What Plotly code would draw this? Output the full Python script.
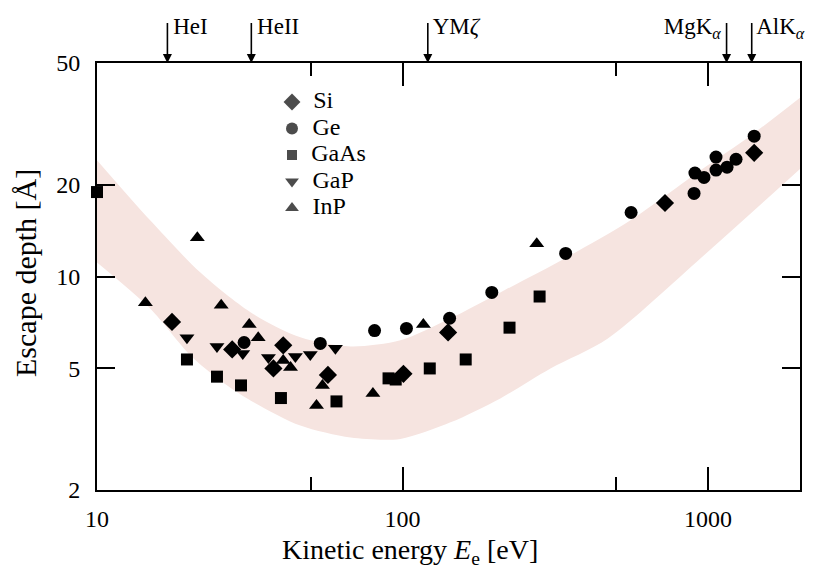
import math
import plotly.graph_objects as go

# ---------------- data ----------------
si_E = [17.6, 27.7, 37.8, 40.7, 57, 100.7, 141, 723, 1416]
si_d = [7.1, 5.77, 5.0, 5.95, 4.76, 4.8, 6.56, 17.4, 25.4]

ge_E = [30.3, 53.8, 81, 103, 142.6, 196, 342, 560, 900, 906, 970, 1062, 1062, 1154, 1235, 1416]
ge_d = [6.08, 6.04, 6.65, 6.76, 7.3, 8.87, 11.9, 16.2, 18.7, 21.8, 21.1, 24.6, 22.3, 22.8, 24.2, 28.8]

gaas_E = [10.0, 19.7, 24.7, 29.6, 40, 60.8, 90, 95, 122.8, 161, 224, 281]
gaas_d = [18.9, 5.35, 4.7, 4.4, 4.0, 3.9, 4.64, 4.6, 5.0, 5.35, 6.8, 8.6]

gap_E = [19.7, 24.7, 30, 36.4, 44.6, 49.9, 60.3]
gap_d = [6.3, 5.9, 5.6, 5.43, 5.47, 5.55, 5.82]

inp_E = [14.4, 21.3, 25.5, 31.5, 33.7, 40.7, 43, 54.7, 52.3, 80, 117, 275]
inp_d = [8.2, 13.4, 8.05, 6.97, 6.3, 5.31, 5.04, 4.4, 3.78, 4.14, 6.97, 12.8]

# universal-curve band (upper and lower limits)
band_up_E = [9.5, 14.9, 21.8, 31.8, 46.3, 67.6, 98.4, 143.6, 209, 342, 559, 948, 1384, 2100]
band_up_d = [25.5, 15.3, 10.3, 7.64, 6.32, 5.9, 6.18, 7.3, 8.87, 11.5, 15.3, 22.3, 29.0, 40.0]
band_lo_E = [9.5, 14.9, 20.2, 25.3, 31.8, 46.3, 67.6, 98.4, 143.6, 209, 305, 470, 948, 2100]
band_lo_d = [11.6, 7.87, 5.52, 4.57, 3.93, 3.25, 2.97, 2.94, 3.33, 3.99, 5.0, 6.27, 11.5, 23.5]

# photon-source markers on top axis
src_names = ["HeI", "HeII", "YM<i>ζ</i>", "MgK<sub><i>α</i></sub>", "AlK<sub><i>α</i></sub>"]
src_E = [17, 32, 121, 1150, 1390]
src_side = ["right", "right", "right", "left", "right"]

legend_names = ["Si", "Ge", "GaAs", "GaP", "InP"]
legend_symbols = ["diamond", "circle", "square", "triangle-down", "triangle-up"]

x_ticks = [10, 100, 1000]
x_minor = [50, 500]
y_ticks = [2, 5, 10, 20, 50]

FONT = "Liberation Serif"

# page body has an 8px margin: figure is sized/offset to compensate
W, H = 816, 562
L, R, T, B = 89, 24, 12, 80
PW = W - L - R
PH = H - T - B
main_h = 427
split = main_h / PH


def px_y(fig_y):
    return (H - B - fig_y) / PH


def px_x(fig_x):
    return (fig_x - L) / PW


fig = go.Figure()

# band: lower edge (invisible) then upper edge filled to it
fig.add_trace(go.Scatter(
    x=band_lo_E, y=band_lo_d, mode="lines",
    line=dict(width=0, shape="spline", smoothing=0.8, color="rgba(0,0,0,0)"),
    showlegend=False, hoverinfo="skip"))
fig.add_trace(go.Scatter(
    x=band_up_E, y=band_up_d, mode="lines", fill="tonexty",
    fillcolor="rgb(246,228,224)",
    line=dict(width=0, shape="spline", smoothing=0.8, color="rgba(0,0,0,0)"),
    showlegend=False, hoverinfo="skip"))

series = [
    ("Si", si_E, si_d, "diamond", 14),
    ("Ge", ge_E, ge_d, "circle", 13),
    ("GaAs", gaas_E, gaas_d, "square", 12),
    ("GaP", gap_E, gap_d, "triangle-down", 13),
    ("InP", inp_E, inp_d, "triangle-up", 13),
]
for name, xs, ys, sym, sz in series:
    fig.add_trace(go.Scatter(
        x=xs, y=ys, mode="markers", name=name, cliponaxis=False, showlegend=False,
        marker=dict(symbol=sym, size=sz, color="black", line=dict(width=0))))

# arrows above the top axis (strip subplot sharing the x scale)
ax_x, ax_y = [], []
for e in src_E:
    ax_x += [e, e, None]
    ax_y += [0.93, 0.15, None]
fig.add_trace(go.Scatter(x=ax_x, y=ax_y, xaxis="x2", yaxis="y2", mode="lines",
                         line=dict(color="black", width=1.6), showlegend=False,
                         hoverinfo="skip", cliponaxis=False))
fig.add_trace(go.Scatter(x=src_E, y=[0] * len(src_E), xaxis="x2", yaxis="y2",
                         mode="markers", cliponaxis=False, showlegend=False,
                         hoverinfo="skip",
                         marker=dict(symbol="arrow-down", size=9, color="black",
                                     line=dict(width=0))))
fig.add_trace(go.Scatter(
    x=src_E, y=[0.8] * len(src_E), xaxis="x2", yaxis="y2", mode="text",
    text=[(" " + n) if s == "right" else (n + " ") for n, s in zip(src_names, src_side)],
    textposition=["middle right" if s == "right" else "middle left" for s in src_side],
    cliponaxis=False, showlegend=False, hoverinfo="skip",
    textfont=dict(family=FONT, size=23, color="black")))

# key (legend) drawn as its own small subplot with category rows
fig.add_trace(go.Scatter(
    x=[0] * len(legend_names), y=legend_names, xaxis="x3", yaxis="y3",
    mode="markers+text", text=["\u2002" + n for n in legend_names],
    textposition="middle right",
    cliponaxis=False, showlegend=False, hoverinfo="skip",
    textfont=dict(family=FONT, size=24, color="black"),
    marker=dict(symbol=legend_symbols, size=[13, 12, 10, 12, 12], color="black",
                line=dict(width=0))))

annotations = [
    dict(x=px_x(402), y=px_y(543), xref="paper", yref="paper",
         showarrow=False, text="Kinetic energy <i>E</i><sub>e</sub> [eV]",
         xanchor="center", yanchor="middle",
         font=dict(family=FONT, size=28, color="black")),
    dict(x=px_x(17), y=px_y(265), xref="paper", yref="paper",
         showarrow=False, textangle=-90, text="Escape depth [Å]",
         xanchor="center", yanchor="middle",
         font=dict(family=FONT, size=30, color="black")),
]

# legend rows: centres at screen y 102 .. 208 (fig y 94 .. 200), spacing 26.5
leg_top = 94 - 13.25
leg_bot = 200 + 13.25

fig.update_layout(
    width=W, height=H,
    margin=dict(l=L, r=R, t=T, b=B, autoexpand=False),
    paper_bgcolor="white", plot_bgcolor="rgba(0,0,0,0)",
    font=dict(family=FONT, size=23, color="black"),
    annotations=annotations,
    showlegend=False,
    xaxis=dict(domain=[0, 1], anchor="y"),
    yaxis=dict(domain=[0, split], anchor="x"),
    xaxis2=dict(type="log", matches="x", anchor="y2", visible=False, showgrid=False),
    yaxis2=dict(domain=[split, 1], range=[0, 1], anchor="x2", visible=False,
                showgrid=False, zeroline=False),
    xaxis3=dict(domain=[px_x(284), px_x(400)], range=[0, 1], anchor="y3",
                visible=False, showgrid=False, zeroline=False),
    yaxis3=dict(domain=[px_y(leg_bot), px_y(leg_top)], anchor="x3", type="category",
                categoryorder="array", categoryarray=legend_names[::-1],
                range=[-0.5, len(legend_names) - 0.5],
                visible=False, showgrid=False, zeroline=False),
)

fig.update_xaxes(
    selector=dict(anchor="y"),
    type="log", range=[1, math.log10(2000)],
    tickvals=x_ticks, ticktext=[str(v) for v in x_ticks],
    ticks="inside", ticklen=23, tickwidth=2, tickcolor="black",
    showline=True, linewidth=2, linecolor="black", mirror="ticks",
    showgrid=False, zeroline=False, ticklabelstandoff=6,
    tickfont=dict(family=FONT, size=24, color="black"),
    minor=dict(tickvals=x_minor, ticks="inside", ticklen=13, tickwidth=2,
               tickcolor="black", showgrid=False))

fig.update_yaxes(
    selector=dict(anchor="x"),
    type="log", range=[math.log10(2), math.log10(50)],
    tickvals=y_ticks, ticktext=[str(v) for v in y_ticks],
    ticks="inside", ticklen=18, tickwidth=2, tickcolor="black",
    showline=True, linewidth=2, linecolor="black", mirror="ticks",
    showgrid=False, zeroline=False, ticklabelstandoff=10,
    tickfont=dict(family=FONT, size=24, color="black"))

fig.write_html("out.html")
